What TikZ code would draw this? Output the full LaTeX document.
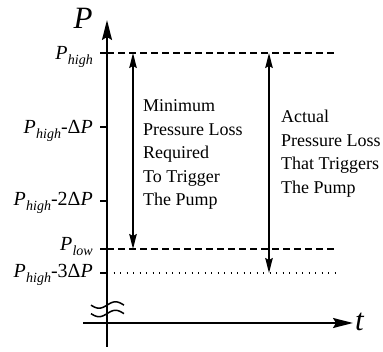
\documentclass[tikz,border=0pt]{standalone}
\usepackage{fontspec}
\setmainfont{Liberation Serif}
\usetikzlibrary{arrows.meta}
\newcommand\Phigh{\textit{P}\kern0.3pt\raisebox{-4.5pt}{\fontsize{14}{14}\selectfont\itshape high}}
\newcommand\Plow{\textit{P}\kern0.3pt\raisebox{-4.5pt}{\fontsize{14}{14}\selectfont\itshape low}}
\begin{document}
\begin{tikzpicture}[x=1pt,y=-1pt,
  axis/.style={line width=1.8pt,-{Stealth[length=20pt,width=10pt,inset=3pt]}},
  span/.style={line width=1.5pt,{Stealth[length=15pt,width=7.5pt,inset=2pt]}-{Stealth[length=15pt,width=7.5pt,inset=2pt]}},
  level/.style={line width=1.5pt,dash pattern=on 7pt off 4pt},
  floor/.style={line width=1.2pt,dash pattern=on 1.2pt off 5.3pt},
  tickmark/.style={line width=1.5pt},
  wave/.style={line width=1.5pt},
  lab/.style={anchor=base east,inner sep=0pt,font=\fontsize{20}{20}\selectfont},
  big/.style={inner sep=0pt,font=\fontsize{31}{31}\selectfont\itshape},
  note/.style={anchor=north west,inner sep=0pt,align=left,font=\fontsize{18}{23.5}\selectfont}]
\useasboundingbox (0,0) rectangle (383,352);
% axes
\coordinate (o) at (107,347);
\coordinate (ytop) at (107,20);
\coordinate (xl) at (83,323);
\coordinate (xr) at (353,323);
\draw[axis] (o) -- (ytop);
\draw[axis] (xl) -- (xr);
\node[big,anchor=base] (plab) at (83,29) {P};
\node[big,anchor=base west] (tlab) at (355,331) {t};
% break mark
\draw[wave] plot[domain=91:124,samples=40,smooth] (\x,{305+3.2*cos((\x-99)*180/16.5)});
\draw[wave] plot[domain=91:124,samples=40,smooth] (\x,{313.5+3.2*cos((\x-99)*180/16.5)});
% ticks
\foreach \yy in {53,127,201,249,273} \draw[tickmark] (100,\yy) -- (107,\yy);
% levels
\coordinate (hA) at (107,53);  \coordinate (hB) at (335,53);
\coordinate (lA) at (107,249); \coordinate (lB) at (335,249);
\coordinate (dA) at (107,273); \coordinate (dB) at (335,273);
\draw[level] (hA) -- (hB);
\draw[level] (lA) -- (lB);
\draw[floor] (dA) -- (dB);
% spans
\coordinate (s1t) at (133,53);  \coordinate (s1b) at (133,249);
\coordinate (s2t) at (269,53);  \coordinate (s2b) at (269,273);
\draw[span] (s1t) -- (s1b);
\draw[span] (s2t) -- (s2b);
% labels
\node[lab] (lh) at (93,60) {\Phigh};
\node[lab] (l1) at (93,134) {\Phigh-Δ\textit{P}};
\node[lab] (l2) at (93,206) {\Phigh-2Δ\textit{P}};
\node[lab] (ll) at (93,251) {\Plow};
\node[lab] (l3) at (93,278) {\Phigh-3Δ\textit{P}};
% notes
\node[note] (n1) at (143,99.5) {Minimum\\Pressure Loss\\Required\\To Trigger\\The Pump};
\node[note] (n2) at (281,110) {Actual\\Pressure Loss\\That Triggers\\The Pump};
\end{tikzpicture}
\end{document}
